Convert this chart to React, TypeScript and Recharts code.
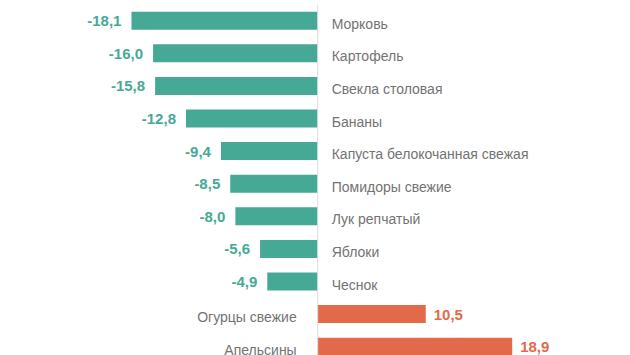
import { BarChart, Bar, XAxis, YAxis, Cell, LabelList, ReferenceLine } from "recharts";

const categories = [
  "Морковь",
  "Картофель",
  "Свекла столовая",
  "Бананы",
  "Капуста белокочанная свежая",
  "Помидоры свежие",
  "Лук репчатый",
  "Яблоки",
  "Чеснок",
  "Огурцы свежие",
  "Апельсины",
];
const values = [-18.1, -16.0, -15.8, -12.8, -9.4, -8.5, -8.0, -5.6, -4.9, 10.5, 18.9];

const data = categories.map((name, i) => ({ name, value: values[i] }));

const NEG = "#46a995";
const POS = "#e2694a";
const FONT = "'Liberation Sans', Arial, sans-serif";

const fmt = (v: number) => v.toFixed(1).replace(".", ",");

function ValueLabel(props: any) {
  const { x, y, width, height, value } = props;
  const left = Math.min(x, x + width);
  const right = Math.max(x, x + width);
  const cy = y + height / 2;
  const neg = value < 0;
  return (
    <text
      x={neg ? left - 10 : right + 8}
      y={cy}
      textAnchor={neg ? "end" : "start"}
      dominantBaseline="central"
      fill={neg ? NEG : POS}
      fontSize={15}
      fontWeight="bold"
      fontFamily={FONT}
    >
      {fmt(value)}
    </text>
  );
}

function NameLabel(props: any) {
  const { x, y, width, height, index } = props;
  const left = Math.min(x, x + width);
  const right = Math.max(x, x + width);
  const cy = y + height / 2;
  const neg = values[index] < 0;
  return (
    <text
      x={neg ? right + 14 : left - 21}
      y={cy + 3}
      textAnchor={neg ? "start" : "end"}
      dominantBaseline="central"
      fill="#737373"
      fontSize={14}
      fontFamily={FONT}
    >
      {categories[index]}
    </text>
  );
}

export default function App() {
  return (
    <div
      style={{
        position: "fixed",
        left: 0,
        top: 0,
        width: 630,
        height: 355,
        overflow: "hidden",
        background: "#fff",
      }}
    >
      <BarChart
        width={630}
        height={370}
        data={data}
        layout="vertical"
        margin={{ top: 4.7, right: 3.6, bottom: 6.7, left: 9 }}
      >
        <XAxis type="number" domain={[-30, 30]} hide />
        <YAxis type="category" dataKey="name" hide />
        <Bar dataKey="value" barSize={18} isAnimationActive={false}>
          {data.map((d, i) => (
            <Cell key={i} fill={d.value < 0 ? NEG : POS} />
          ))}
          <LabelList dataKey="value" content={<ValueLabel />} />
          <LabelList dataKey="name" content={<NameLabel />} />
        </Bar>
        <ReferenceLine x={0} stroke="#dcdcdc" strokeWidth={1} ifOverflow="extendDomain" />
      </BarChart>
    </div>
  );
}
